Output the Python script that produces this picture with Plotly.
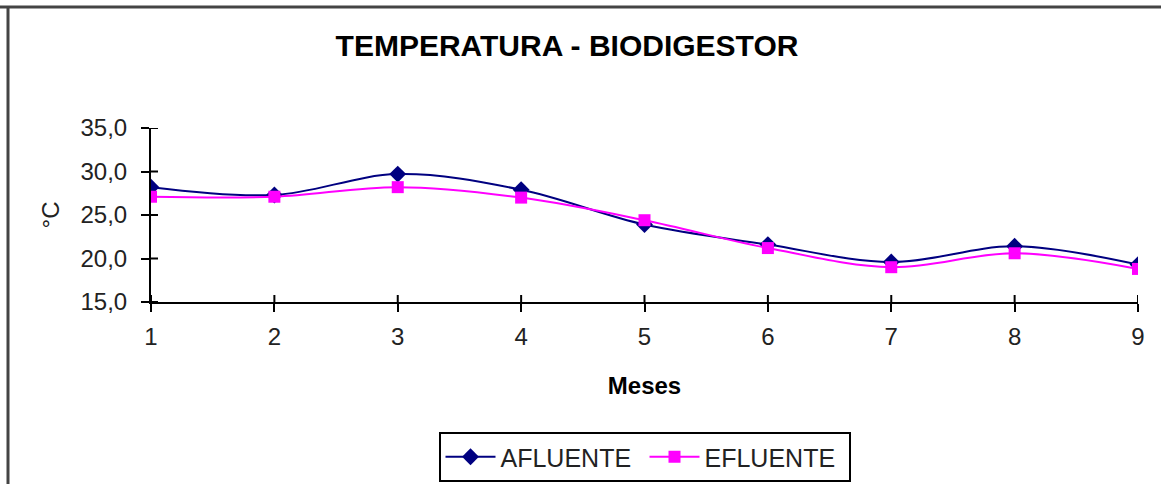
import plotly.graph_objects as go

meses = [1, 2, 3, 4, 5, 6, 7, 8, 9]
afluente = [28.2, 27.3, 29.7, 27.9, 23.9, 21.6, 19.6, 21.4, 19.3]
efluente = [27.1, 27.1, 28.2, 27.0, 24.4, 21.2, 19.0, 20.6, 18.8]
y_ticks = [15, 20, 25, 30, 35]

FONT = "Arial, Liberation Sans, sans-serif"

fig = go.Figure()
fig.add_trace(go.Scatter(
    x=meses, y=afluente, name="AFLUENTE", mode="lines+markers",
    line=dict(color="#000080", width=2, shape="spline", smoothing=1),
    marker=dict(symbol="diamond", size=13, color="#000080"),
))
fig.add_trace(go.Scatter(
    x=meses, y=efluente, name="EFLUENTE", mode="lines+markers",
    line=dict(color="#FF00FF", width=2, shape="spline", smoothing=1),
    marker=dict(symbol="square", size=12, color="#FF00FF"),
))

fig.update_layout(
    width=1161, height=484,
    margin=dict(l=151, r=23, t=128, b=182),
    paper_bgcolor="white", plot_bgcolor="white",
    font=dict(family=FONT, size=24, color="#222222"),
    separators=",.",
    title=dict(text="<b>TEMPERATURA - BIODIGESTOR</b>", x=567 / 1161, xanchor="center",
               y=1 - 45 / 484, yanchor="middle",
               font=dict(family=FONT, size=30, color="black")),
    xaxis=dict(range=[1, 9], tickvals=meses, showgrid=False, zeroline=False,
               showline=True, linecolor="black", linewidth=2,
               ticks="outside", ticklen=8, tickwidth=2, tickcolor="black",
               ticklabelstandoff=4,
               title=dict(text="<b>Meses</b>", standoff=28,
                          font=dict(family=FONT, size=24, color="black"))),
    yaxis=dict(range=[15, 35], tickvals=y_ticks, tickformat=".1f",
               showgrid=False, zeroline=False,
               showline=True, linecolor="black", linewidth=2,
               ticks="outside", ticklen=8, tickwidth=2, tickcolor="black",
               ticklabelstandoff=9,
               title=dict(text="°C", standoff=14,
                          font=dict(family=FONT, size=24, color="#222222"))),
    showlegend=True,
    legend=dict(orientation="h", x=0.5, xanchor="center",
                yref="container", y=1 - 457 / 484, yanchor="middle",
                bordercolor="black", borderwidth=2, bgcolor="white",
                font=dict(family=FONT, size=25, color="#222222"),
                itemwidth=50, entrywidth=139, entrywidthmode="pixels",
                tracegroupgap=0),
)

# inner half of the crossing tick marks
for m in meses:
    fig.add_shape(type="line", xref="x", x0=m, x1=m,
                  yref="paper", ysizemode="pixel", yanchor=0, y0=0, y1=7,
                  line=dict(color="black", width=2))
for t in y_ticks:
    fig.add_shape(type="line", yref="y", y0=t, y1=t,
                  xref="paper", xsizemode="pixel", xanchor=0, x0=0, x1=7,
                  line=dict(color="black", width=2))

# chart outer border (top and left edges visible)
fig.add_shape(type="line", xref="paper", yref="paper",
              x0=-151 / 987, x1=1010 / 987, y0=(302 - 7) / 174, y1=(302 - 7) / 174,
              line=dict(color="#444444", width=3))
fig.add_shape(type="line", xref="paper", yref="paper",
              x0=(8 - 151) / 987, x1=(8 - 151) / 987, y0=(302 - 7) / 174, y1=(302 - 490) / 174,
              line=dict(color="#444444", width=3))

fig.write_html("out.html", config={"displayModeBar": False},
               post_script="document.body.style.margin='0px';")
